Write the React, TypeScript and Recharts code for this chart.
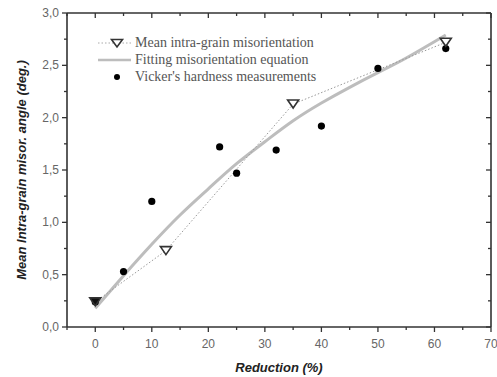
import React from 'react';
import { ComposedChart, Line, Scatter, XAxis, YAxis, Legend, Label } from 'recharts';

// ---- data ----
const misX = [0, 12.5, 35, 62];
const misY = [0.24, 0.73, 2.13, 2.72];

const vickX = [0, 5, 10, 22, 25, 32, 40, 50, 62];
const vickY = [0.24, 0.53, 1.2, 1.72, 1.47, 1.69, 1.92, 2.47, 2.66];

const fitX = [0, 5, 10, 15, 20, 25, 30, 35, 40, 45, 50, 55, 62];
const fitY = [0.18, 0.49, 0.79, 1.07, 1.32, 1.56, 1.77, 1.97, 2.14, 2.29, 2.43, 2.57, 2.79];

const xTicks = [-5, 0, 5, 10, 15, 20, 25, 30, 35, 40, 45, 50, 55, 60, 65, 70];
const yTicks = [0, 0.25, 0.5, 0.75, 1, 1.25, 1.5, 1.75, 2, 2.25, 2.5, 2.75, 3];

const legendLabels = [
  'Mean intra-grain misorientation',
  'Fitting misorientation equation',
  "Vicker's hardness measurements",
];

const misData = misX.map((x, i) => ({ x, y: misY[i] }));
const vickData = vickX.map((x, i) => ({ x, y: vickY[i] }));
const fitData = fitX.map((x, i) => ({ x, y: fitY[i] }));

const AXIS = '#333';
const TICKTXT = '#666';
const SANS = '"Liberation Sans", Arial, sans-serif';
const SERIF = '"Liberation Serif", "Times New Roman", serif';

const isMajorX = (v: number) => v % 10 === 0;
const isMajorY = (v: number) => Math.abs(v * 2 - Math.round(v * 2)) < 1e-6;
const fmtY = (v: number) => v.toFixed(1).replace('.', ',');

const BottomTick = (p: any) => {
  const { x, y, payload } = p;
  const major = isMajorX(payload.value);
  return (
    <g>
      <line x1={x} x2={x} y1={y} y2={y + (major ? 5 : 3)} stroke={AXIS} strokeWidth={1.3} />
      {major && (
        <text x={x} y={y + 21} textAnchor="middle" fontFamily={SANS} fontSize={12} fill={TICKTXT}>
          {payload.value}
        </text>
      )}
    </g>
  );
};

const TopTick = (p: any) => {
  const { x, y, payload } = p;
  const major = isMajorX(payload.value);
  return <line x1={x} x2={x} y1={y} y2={y + (major ? 5 : 3)} stroke={AXIS} strokeWidth={1.3} />;
};

const LeftTick = (p: any) => {
  const { x, y, payload } = p;
  const major = isMajorY(payload.value);
  return (
    <g>
      <line x1={x - (major ? 5 : 3)} x2={x} y1={y} y2={y} stroke={AXIS} strokeWidth={1.3} />
      {major && (
        <text x={x - 8} y={y + 4} textAnchor="end" fontFamily={SANS} fontSize={12} fill={TICKTXT}>
          {fmtY(payload.value)}
        </text>
      )}
    </g>
  );
};

const RightTick = (p: any) => {
  const { x, y, payload } = p;
  const major = isMajorY(payload.value);
  return <line x1={x - (major ? 5 : 3)} x2={x} y1={y} y2={y} stroke={AXIS} strokeWidth={1.3} />;
};

const Triangle = (p: any) => {
  const { cx, cy, index } = p;
  if (cx == null || cy == null) return null;
  const w = 5.5;
  const h = 8;
  const top = cy - h / 2;
  const d = `M${cx - w},${top} L${cx + w},${top} L${cx},${top + h} Z`;
  return (
    <path
      key={`tri-${index}`}
      d={d}
      fill={index === 0 ? '#111' : '#fff'}
      stroke="#333"
      strokeWidth={1.6}
    />
  );
};

const Dot = (p: any) => {
  const { cx, cy } = p;
  return <circle cx={cx} cy={cy} r={3.6} fill="#000" />;
};

const LegendContent = () => {
  const rowH = 16.7;
  const sym = (i: number) => {
    if (i === 0)
      return (
        <>
          <line x1={3} x2={36} y1={8} y2={8} stroke="#aaa" strokeWidth={1} strokeDasharray="1.5 2" />
          <path d="M16.5,4.5 L27.5,4.5 L22,12 Z" fill="#fff" stroke="#333" strokeWidth={1.6} />
        </>
      );
    if (i === 1) return <line x1={3} x2={36} y1={8} y2={8} stroke="#bdbdbd" strokeWidth={2.5} />;
    return <circle cx={22} cy={8} r={3} fill="#000" />;
  };
  return (
    <div>
      {legendLabels.map((t, i) => (
        <div key={t} style={{ display: 'flex', alignItems: 'center', height: rowH }}>
          <svg width={40} height={16} style={{ display: 'block' }}>
            {sym(i)}
          </svg>
          <span style={{ fontFamily: SERIF, fontSize: 14, color: '#555', whiteSpace: 'nowrap', lineHeight: '16px' }}>
            {t}
          </span>
        </div>
      ))}
    </div>
  );
};

const YTitle = (p: any) => {
  const vb = p.viewBox || { x: 0, y: 13, width: 67, height: 314 };
  const cx = 21;
  const cy = vb.y + vb.height / 2;
  return (
    <text
      x={cx}
      y={cy}
      transform={`rotate(-90, ${cx}, ${cy})`}
      textAnchor="middle"
      dominantBaseline="central"
      fontFamily={SANS}
      fontWeight="bold"
      fontStyle="italic"
      fontSize={13}
      fill="#222"
    >
      Mean Intra-grain misor. angle (deg.)
    </text>
  );
};

const XTitle = (p: any) => {
  const vb = p.viewBox || { x: 67, y: 327, width: 424, height: 50 };
  const cx = vb.x + vb.width / 2;
  const cy = vb.y + 40;
  return (
    <text
      x={cx}
      y={cy}
      textAnchor="middle"
      dominantBaseline="central"
      fontFamily={SANS}
      fontWeight="bold"
      fontStyle="italic"
      fontSize={13}
      fill="#222"
    >
      Reduction (%)
    </text>
  );
};

export default function App() {
  return (
    <div style={{ position: 'absolute', left: 0, top: 0, background: '#fff' }}>
      <ComposedChart width={497} height={377} margin={{ top: 0, right: 0, bottom: 0, left: 0 }}>
        <XAxis
          xAxisId="b"
          dataKey="x"
          type="number"
          orientation="bottom"
          domain={[-5, 70]}
          ticks={xTicks}
          interval={0}
          allowDataOverflow
          height={50}
          tickSize={0}
          tickMargin={0}
          tickLine={false}
          tick={<BottomTick />}
          axisLine={{ stroke: AXIS, strokeWidth: 1.6 }}
        >
          <Label content={<XTitle />} />
        </XAxis>
        <XAxis
          xAxisId="t"
          dataKey="x"
          type="number"
          orientation="top"
          domain={[-5, 70]}
          ticks={xTicks}
          interval={0}
          allowDataOverflow
          height={13}
          tickSize={0}
          tickMargin={0}
          tickLine={false}
          tick={<TopTick />}
          axisLine={{ stroke: AXIS, strokeWidth: 1.6 }}
        />
        <YAxis
          yAxisId="l"
          dataKey="y"
          type="number"
          orientation="left"
          domain={[0, 3]}
          ticks={yTicks}
          interval={0}
          allowDataOverflow
          width={67}
          tickSize={0}
          tickMargin={0}
          tickLine={false}
          tick={<LeftTick />}
          axisLine={{ stroke: AXIS, strokeWidth: 1.6 }}
        >
          <Label content={<YTitle />} />
        </YAxis>
        <YAxis
          yAxisId="r"
          dataKey="y"
          type="number"
          orientation="right"
          domain={[0, 3]}
          ticks={yTicks}
          interval={0}
          allowDataOverflow
          width={6}
          tickSize={0}
          tickMargin={0}
          tickLine={false}
          tick={<RightTick />}
          axisLine={{ stroke: AXIS, strokeWidth: 1.6 }}
        />
        <Legend
          layout="horizontal"
          verticalAlign="middle"
          align="center"
          wrapperStyle={{ top: 35, left: 95, width: 260 }}
          content={<LegendContent />}
        />
        <Line
          xAxisId="b"
          yAxisId="l"
          data={fitData}
          dataKey="y"
          type="natural"
          stroke="#bdbdbd"
          strokeWidth={3}
          dot={false}
          activeDot={false}
          isAnimationActive={false}
        />
        <Scatter
          xAxisId="b"
          yAxisId="l"
          data={vickData}
          dataKey="y"
          shape={<Dot />}
          isAnimationActive={false}
        />
        <Line
          xAxisId="b"
          yAxisId="l"
          data={misData}
          dataKey="y"
          type="linear"
          stroke="#999"
          strokeWidth={1}
          strokeDasharray="1.5 2"
          dot={<Triangle />}
          activeDot={false}
          isAnimationActive={false}
        />
      </ComposedChart>
    </div>
  );
}
